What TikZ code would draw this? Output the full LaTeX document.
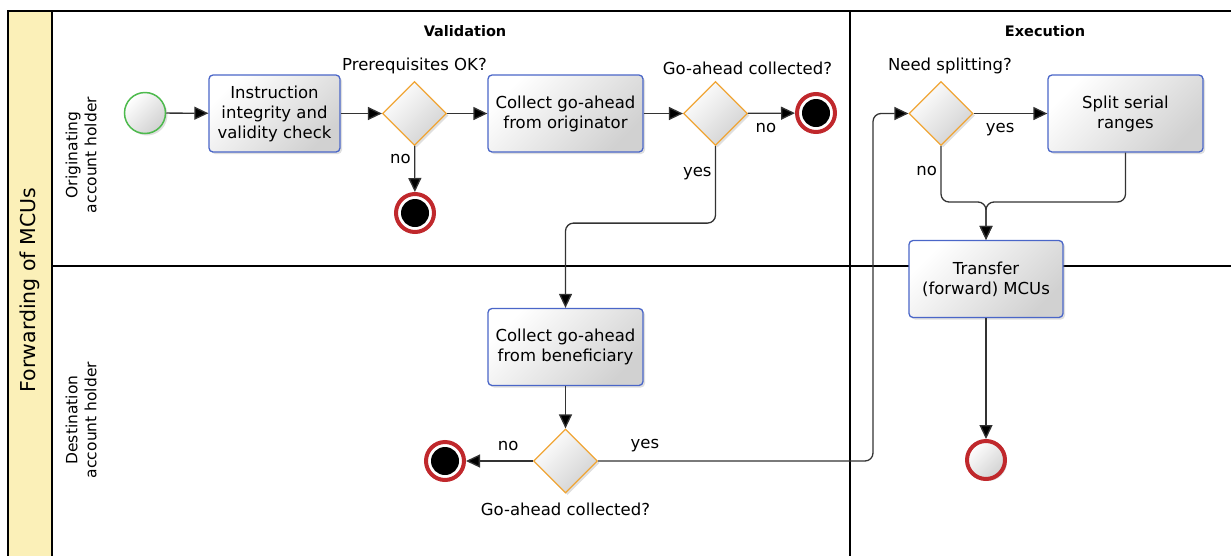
\documentclass[tikz,border=0pt]{standalone}
\usepackage{fontspec}
\setmainfont{DejaVu Sans}
\usetikzlibrary{shapes.geometric,arrows.meta,shadows}
\definecolor{poolyellow}{HTML}{FBF0B8}
\definecolor{taskblue}{HTML}{4A66C8}
\definecolor{gworange}{HTML}{F0A535}
\definecolor{startgreen}{HTML}{4DBA4D}
\definecolor{endred}{HTML}{C0282C}
\definecolor{flowgray}{HTML}{333333}
\newcommand{\flowFont}{\fontsize{16.5}{20}\selectfont}
\newcommand{\headFont}{\fontsize{14.5}{17}\selectfont\bfseries}
\newcommand{\laneFont}{\fontsize{15.5}{19}\selectfont}
\newcommand{\poolFont}{\fontsize{20.5}{24}\selectfont}

\begin{document}
\begin{tikzpicture}[x=1pt, y=-1pt, font=\flowFont]
  \tikzset{
    shade/.style={top color=white, bottom color=black!18, shading angle=45,
      drop shadow={shadow xshift=2pt, shadow yshift=-2pt, opacity=0.25}},
    task/.style={rectangle, rounded corners=4pt, draw=taskblue, line width=1.3pt,
      minimum width=155pt, minimum height=77pt, align=center, shade},
    gateway/.style={diamond, draw=gworange, line width=1.2pt, minimum width=64pt,
      minimum height=64pt, inner sep=0pt, shade},
    startevent/.style={circle, draw=startgreen, line width=1.5pt, minimum size=41pt,
      inner sep=0pt, shade},
    endevent/.style={circle, draw=endred, line width=4pt, minimum size=38pt, inner sep=0pt,
      fill=white, path picture={\fill[black] (path picture bounding box.center) circle (14pt);}},
    plainend/.style={circle, draw=endred, line width=4pt, minimum size=38pt, inner sep=0pt, shade},
    flow/.style={draw=flowgray, line width=1.3pt, -{Triangle[length=14pt,width=13pt,fill=black]}},
    lane/.style={draw=black, line width=1.3pt}
  }
  \useasboundingbox (0,0) rectangle (1231,555);
  \begin{scope}
    \clip (0,0) rectangle (1231,555);
    \fill[poolyellow] (8,11) rectangle (52,560);
    \draw[lane] (8,560) -- (8,11) -- (1240,11);
    \draw[lane] (52,11) -- (52,560);
    \draw[lane] (52,266) -- (1240,266);
    \draw[lane] (850,11) -- (850,560);
  \end{scope}
  \node[rotate=90, font=\poolFont] (pool) at (30,290) {Forwarding of MCUs};
  \node[rotate=90, font=\laneFont, align=center] (lane-1) at (81,155) {Originating\\account holder};
  \node[rotate=90, font=\laneFont, align=center] (lane-2) at (81,420) {Destination\\account holder};
  \node[font=\headFont] (validation) at (465,31) {Validation};
  \node[font=\headFont] (execution) at (1045,31) {Execution};

  \node[startevent] (start) at (145,113) {};
  \node[task, minimum width=131pt] (task-1) at (274.5,113.5) {Instruction\\integrity and\\validity check};
  \node[gateway, label={[yshift=3pt]above:Prerequisites OK?}] (gw-1) at (414.5,113.5) {};
  \node[endevent] (end-1) at (415,213) {};
  \node[task] (task-2) at (565.5,113.5) {Collect go-ahead\\from originator};
  \node[gateway, label={[xshift=32pt,yshift=3pt]above:Go-ahead collected?}] (gw-2) at (715.5,113.5) {};
  \node[endevent] (end-2) at (816,113) {};
  \node[task] (task-3) at (565.5,347) {Collect go-ahead\\from beneficiary};
  \node[gateway, label={[yshift=-6pt]below:Go-ahead collected?}] (gw-3) at (565.5,461) {};
  \node[endevent] (end-3) at (445,461) {};
  \node[gateway, label={[xshift=9pt,yshift=3pt]above:Need splitting?}] (gw-4) at (941,113.5) {};
  \node[task] (task-4) at (1125.5,113.5) {Split serial\\ranges};
  \node[task, minimum width=154pt] (task-5) at (986,279) {Transfer\\(forward) MCUs};
  \node[plainend] (end-4) at (986,460) {};

  \coordinate (loop) at (873,461);
  \coordinate (merge) at (986,202);

  \draw[flow] (start) -- (task-1);
  \draw[flow] (task-1) -- (gw-1);
  \draw[flow] (gw-1) -- (task-2);
  \draw[flow] (gw-1) -- node[pos=0.28, left] {no} (end-1);
  \draw[flow] (task-2) -- (gw-2);
  \draw[flow] (gw-2) -- node[pos=0.38, below, yshift=-6pt] {no} (end-2);
  \draw[flow, rounded corners=8pt] (gw-2.south) -- node[pos=0.36, left] {yes} ++(0,77) -| (task-3.north);
  \draw[flow] (task-3) -- (gw-3);
  \draw[flow] (gw-3) -- node[pos=0.37, above, yshift=6pt] {no} (end-3);
  \draw[flow, rounded corners=8pt] (gw-3.east) -- node[pos=0.17, above, yshift=5pt] {yes} (loop) |- (gw-4.west);
  \draw[flow] (gw-4) -- node[pos=0.36, below, yshift=-6pt] {yes} (task-4);
  \draw[flow, rounded corners=8pt] (gw-4.south) |- node[pos=0.22, left] {no} (merge) -- (task-5.north);
  \draw[flow, rounded corners=8pt] (task-4.south) |- (merge) -- (task-5.north);
  \draw[flow] (task-5) -- (end-4);
\end{tikzpicture}
\end{document}
